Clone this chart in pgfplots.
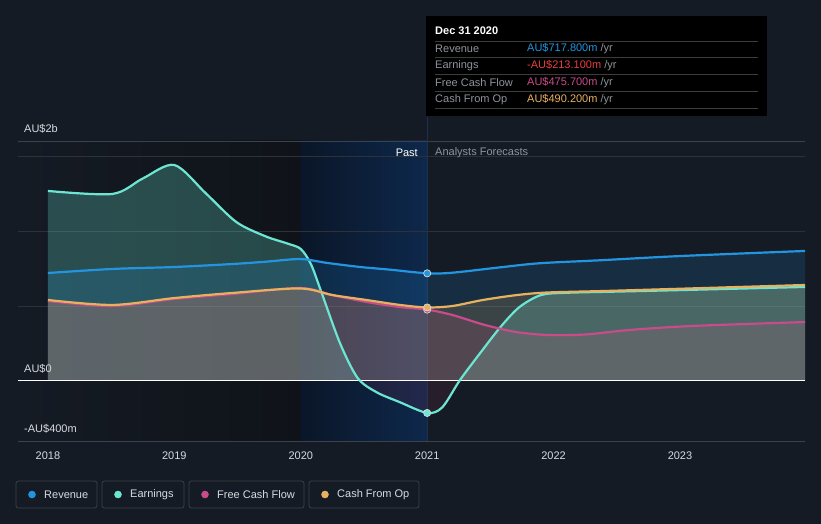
\documentclass[border=0pt]{standalone}
\usepackage{pgfplots}
\pgfplotsset{compat=1.18}
\usepgfplotslibrary{fillbetween}
\usepackage{fontspec}
\setmainfont{Liberation Sans}
\definecolor{bg}{HTML}{151B24}
\definecolor{pastdark}{HTML}{0F1319}
\definecolor{blueL}{HTML}{0A1628}
\definecolor{blueR}{HTML}{0E284B}
\definecolor{cursor}{HTML}{1E3250}
\definecolor{sepc}{HTML}{3C3C3C}
\definecolor{rev}{HTML}{2394DF}
\definecolor{earn}{HTML}{6CE5D3}
\definecolor{fcf}{HTML}{C84B8A}
\definecolor{cfo}{HTML}{E8B15F}
\definecolor{gridc}{HTML}{2C313A}
\definecolor{gridl}{HTML}{3C414A}
\definecolor{txt}{HTML}{D8DBE0}
\definecolor{mut}{HTML}{8E939A}
\definecolor{negred}{HTML}{E5413F}
\definecolor{negfill}{HTML}{7A3050}
\definecolor{boxline}{HTML}{3A3F48}

\pgfplotstableread{
x y
2018 1267
2018.51 1247
2018.75 1350
2019 1440
2019.25 1250
2019.49 1060
2019.72 965
2019.9 915
2020.0 880
2020.08 780
2020.16 600
2020.31 253
2020.45 20
2020.6 -75
2020.78 -140
2021 -213.1
2021.12 -175
2021.26 7
2021.42 187
2021.58 360
2021.73 493
2021.9 573
2022.1 588
2022.5 596
2023 606
2023.989 627
}\earndata
\pgfplotstableread{
x y
2018 720
2018.51 747
2019 760
2019.46 780
2019.72 795
2019.994 813
2020.21 787
2020.47 760
2020.71 742
2021 717.8
2021.2 722
2021.58 758
2021.89 785
2022.37 805
2023 833
2023.989 867
}\revdata
\pgfplotstableread{
x y
2018 533
2018.51 500
2019 547
2019.46 580
2019.994 620
2020.25 573
2020.52 527
2020.785 493
2021 475.7
2021.2 440
2021.45 375
2021.7 327
2021.95 307
2022.25 310
2022.6 340
2023.1 367
2023.989 393
}\fcfdata
\pgfplotstableread{
x y
2018 540
2018.51 507
2019 553
2019.46 587
2019.994 617
2020.25 573
2020.52 540
2020.785 507
2021 490.2
2021.2 500
2021.44 540
2021.71 573
2021.95 590
2022.4 600
2023 615
2023.989 640
}\cfodata

\begin{document}
\begin{tikzpicture}[font=\fontsize{11}{13}\selectfont]
\fill[bg] (-18pt,-83pt) rectangle (803pt,441pt);
\begin{axis}[
  at={(0pt,0pt)}, anchor=south west,
  scale only axis, width=787pt, height=300pt,
  xmin=2017.763, xmax=2023.989, ymin=-400, ymax=1600,
  axis line style={draw=none},
  xtick={2018,2019,2020,2021,2022,2023},
  xticklabels={2018,2019,2020,2021,2022,2023},
  xticklabel style={text=txt, font=\fontsize{11}{13}\selectfont, yshift=-4pt},
  xtick pos=bottom, tick align=outside, major tick length=3pt,
  tick style={draw=gridl, line width=0.8pt},
  ytick=\empty,
  clip=false,
  line join=round,
]
% background regions
\path[left color=bg, right color=pastdark] (axis cs:2017.763,-400) rectangle (axis cs:2019.994,1600);
\path[left color=blueL, right color=blueR] (axis cs:2019.994,-400) rectangle (axis cs:2021,1600);
% grid
\draw[gridc, line width=0.8pt] (axis cs:2017.763,500) -- (axis cs:2023.989,500);
\draw[gridc, line width=0.8pt] (axis cs:2017.763,1000) -- (axis cs:2023.989,1000);
\draw[gridc, line width=0.8pt] (axis cs:2017.763,1500) -- (axis cs:2023.989,1500);
\draw[gridl, line width=0.8pt] (axis cs:2017.763,1600) -- (axis cs:2023.989,1600);
\draw[gridl, line width=0.8pt] (axis cs:2017.763,-400) -- (axis cs:2023.989,-400);
% cursor line
\draw[cursor, line width=0.8pt] (axis cs:2021,-400) -- ([yshift=24pt]axis cs:2021,1600);

\addplot[name path=zero, draw=none, forget plot] coordinates {(2018,0) (2023.989,0)};
\addplot[name path=earn, draw=none, forget plot, smooth, tension=0.5] table {\earndata};
\addplot[name path=rev, draw=none, forget plot, smooth, tension=0.5] table {\revdata};
\addplot[name path=fcf, draw=none, forget plot, smooth, tension=0.5] table {\fcfdata};
\addplot[name path=cfo, draw=none, forget plot, smooth, tension=0.5] table {\cfodata};

% fills
\addplot[fill=earn, fill opacity=0.26, draw=none, forget plot] fill between[of=earn and zero, split, on layer=main,
   every segment no 1/.style={fill=negfill, fill opacity=0.18}];
\addplot[fill=rev, fill opacity=0.16, draw=none, forget plot] fill between[of=rev and zero, on layer=main];
\addplot[fill=fcf, fill opacity=0.17, draw=none, forget plot] fill between[of=fcf and zero, on layer=main];
\addplot[fill=cfo, fill opacity=0.17, draw=none, forget plot] fill between[of=cfo and zero, on layer=main];

% zero line
\draw[white, line width=1pt] (axis cs:2017.763,0) -- (axis cs:2023.989,0);

% lines
\addplot[earn, line width=2.2pt, smooth, tension=0.5] table {\earndata};
\addplot[rev, line width=2.2pt, smooth, tension=0.5] table {\revdata};
\addplot[fcf, line width=2.2pt, smooth, tension=0.5] table {\fcfdata};
\addplot[cfo, line width=2.2pt, smooth, tension=0.5] table {\cfodata};

% markers
\addplot[only marks, mark=*, mark size=3.6pt, mark options={fill=fcf, draw=white!85!black, line width=0.7pt}] coordinates {(2021,475.7)};
\addplot[only marks, mark=*, mark size=3.6pt, mark options={fill=cfo, draw=white!85!black, line width=0.7pt}] coordinates {(2021,490.2)};
\addplot[only marks, mark=*, mark size=3.6pt, mark options={fill=rev, draw=white!85!black, line width=0.7pt}] coordinates {(2021,717.8)};
\addplot[only marks, mark=*, mark size=3.6pt, mark options={fill=earn, draw=white!85!black, line width=0.7pt}] coordinates {(2021,-213.1)};
\end{axis}

% y labels
\node[anchor=west, text=txt, inner sep=0pt] at (6pt,312pt) {AU\$2b};
\node[anchor=west, text=txt, inner sep=0pt] at (6pt,72pt) {AU\$0};
\node[anchor=west, text=txt, inner sep=0pt] at (6pt,12pt) {-AU\$400m};

% past / forecast
\node[anchor=east, text=white, inner sep=0pt] at (400pt,288pt) {Past};
\node[anchor=west, text=mut, inner sep=0pt] at (417pt,288pt) {Analysts Forecasts};

% tooltip
\fill[black] (408pt,425pt) rectangle (749pt,325pt);
\node[anchor=west, text=white, inner sep=0pt, font=\fontsize{11}{13}\selectfont\bfseries] at (417pt,410pt) {Dec 31 2020};
\foreach \yy in {400,384,367,350,333} {\draw[sepc, line width=0.7pt] (417pt,\yy pt) -- (740pt,\yy pt);}
\node[anchor=west, text=mut, inner sep=0pt] at (417pt,392pt) {Revenue};
\node[anchor=west, text=mut, inner sep=0pt] at (417pt,375.5pt) {Earnings};
\node[anchor=west, text=mut, inner sep=0pt] at (417pt,358.5pt) {Free Cash Flow};
\node[anchor=west, text=mut, inner sep=0pt] at (417pt,341.5pt) {Cash From Op};
\node[anchor=west, inner sep=0pt] at (509pt,392pt) {\textcolor{rev}{AU\$717.800m} \textcolor{mut}{/yr}};
\node[anchor=west, inner sep=0pt] at (509pt,375.5pt) {\textcolor{negred}{-AU\$213.100m} \textcolor{mut}{/yr}};
\node[anchor=west, inner sep=0pt] at (509pt,358.5pt) {\textcolor{fcf}{AU\$475.700m} \textcolor{mut}{/yr}};
\node[anchor=west, inner sep=0pt] at (509pt,341.5pt) {\textcolor{cfo}{AU\$490.200m} \textcolor{mut}{/yr}};

% legend
\foreach \xl/\xr/\col/\lab in {-2/79/rev/Revenue, 84/166/earn/Earnings, 171/286/fcf/Free Cash Flow, 291/401/cfo/Cash From Op} {
  \draw[boxline, line width=0.8pt, rounded corners=2.5pt] (\xl pt,-40pt) rectangle (\xr pt,-67pt);
  \fill[\col] (\xl pt+16pt,-53.5pt) circle (3.8pt);
  \node[anchor=west, text=txt, inner sep=0pt] at (\xl pt+28pt,-53.5pt) {\lab};
}
\end{tikzpicture}
\end{document}
